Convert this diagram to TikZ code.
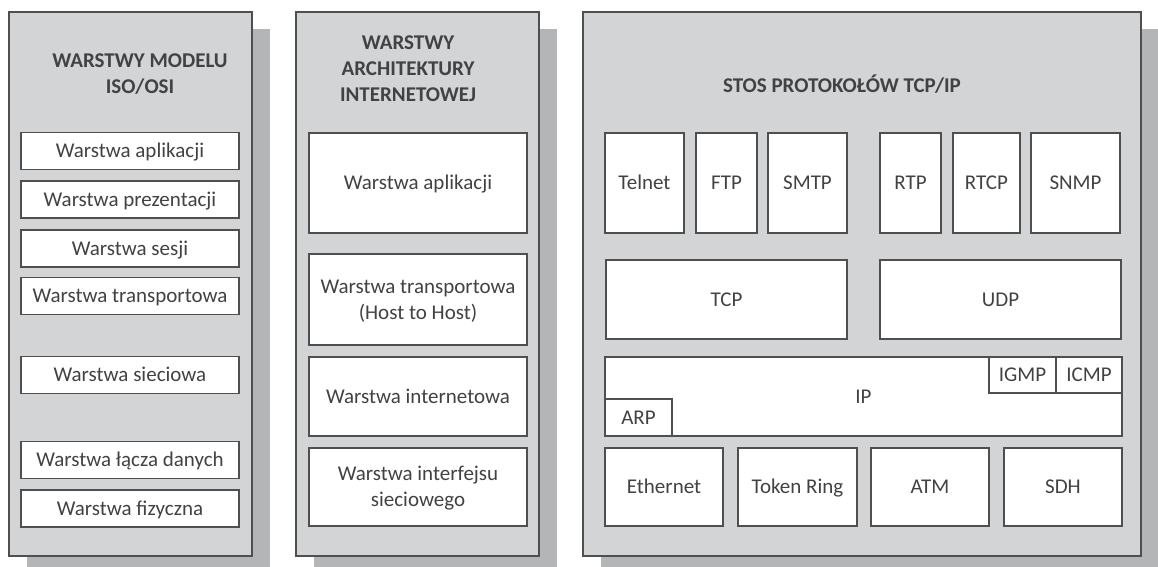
\documentclass[tikz,border=0pt]{standalone}
\usepackage{fontspec}
\setmainfont{Carlito}
\usetikzlibrary{shadows}
\definecolor{panelfill}{HTML}{D3D4D6}
\definecolor{shadowc}{HTML}{B4B5B7}
\definecolor{linec}{HTML}{4F4F4F}
\definecolor{textc}{HTML}{424242}
\begin{document}
\begin{tikzpicture}[x=1pt,y=-1pt,
  panel/.style={draw=linec, line width=1.6pt, fill=panelfill, inner sep=0pt,
    minimum height=544pt,
    general shadow={fill=shadowc, shadow xshift=18pt, shadow yshift=-17pt}},
  box/.style={draw=linec, line width=1.5pt, fill=white, inner sep=0pt,
    text=textc, font=\fontsize{21}{26}\selectfont, align=center,
    text height=13.3pt, text depth=0pt},
  box2/.style={box, text height=39.3pt},
  title/.style={inner sep=0pt, text=textc, font=\bfseries\fontsize{21}{26}\selectfont,
    align=center, text height=39.3pt, text depth=0pt},
  p1box/.style={box, minimum width=218pt, minimum height=37pt},
  p2box/.style={box, minimum width=218pt},
  app/.style={box, minimum height=100pt},
]
\useasboundingbox (0,0) rectangle (1158,566);
% panels
\node[panel, minimum width=243pt] (p1) at (130.5,284) {};
\node[panel, minimum width=243pt] (p2) at (417.5,284) {};
\node[panel, minimum width=558pt] (p3) at (862,284) {};
% titles
\node[title] (t1) at (140,73.5) {WARSTWY MODELU\\ISO/OSI};
\node[title, text height=65.3pt] (t2) at (408,68.5) {WARSTWY\\ARCHITEKTURY\\INTERNETOWEJ};
\node[title, text height=13.3pt] (t3) at (842,86) {STOS PROTOKOŁÓW TCP/IP};
% ISO/OSI layers
\node[p1box] (o1) at (130,151) {Warstwa aplikacji};
\node[p1box] (o2) at (130,199.5) {Warstwa prezentacji};
\node[p1box] (o3) at (130,248.5) {Warstwa sesji};
\node[p1box] (o4) at (130,296) {Warstwa transportowa};
\node[p1box] (o5) at (130,375) {Warstwa sieciowa};
\node[p1box] (o6) at (130,460) {Warstwa łącza danych};
\node[p1box] (o7) at (130,508.5) {Warstwa fizyczna};
% Internet architecture layers
\node[p2box, minimum height=100pt] (a1) at (418,183) {Warstwa aplikacji};
\node[p2box, box2, minimum height=91pt] (a2) at (418,299.5) {Warstwa transportowa\\(Host to Host)};
\node[p2box, minimum height=79pt] (a3) at (418,396.5) {Warstwa internetowa};
\node[p2box, box2, minimum height=78pt] (a4) at (418,487) {Warstwa interfejsu\\sieciowego};
% TCP/IP stack
\node[app, minimum width=79pt] (telnet) at (644.5,183) {Telnet};
\node[app, minimum width=61pt] (ftp) at (726.5,183) {FTP};
\node[app, minimum width=79pt] (smtp) at (807.5,183) {SMTP};
\node[app, minimum width=61pt] (rtp) at (910.5,183) {RTP};
\node[app, minimum width=67pt] (rtcp) at (986.5,183) {RTCP};
\node[app, minimum width=89pt] (snmp) at (1075.5,183) {SNMP};
\node[box, minimum width=241pt, minimum height=79pt] (tcp) at (726.5,299.5) {TCP};
\node[box, minimum width=241pt, minimum height=79pt] (udp) at (1000.5,299.5) {UDP};
\node[box, minimum width=517pt, minimum height=79pt] (ip) at (863.5,396.5) {IP};
\node[box, minimum width=67pt, minimum height=36pt] (igmp) at (1022.5,375) {IGMP};
\node[box, minimum width=66pt, minimum height=36pt] (icmp) at (1089,375) {ICMP};
\node[box, minimum width=67pt, minimum height=37pt] (arp) at (638.5,417.5) {ARP};
\node[box, minimum width=118pt, minimum height=78pt] (eth) at (664,487) {Ethernet};
\node[box, minimum width=119pt, minimum height=78pt] (tr) at (797.5,487) {Token Ring};
\node[box, minimum width=118pt, minimum height=78pt] (atm) at (930,487) {ATM};
\node[box, minimum width=118pt, minimum height=78pt] (sdh) at (1063,487) {SDH};
\end{tikzpicture}
\end{document}
